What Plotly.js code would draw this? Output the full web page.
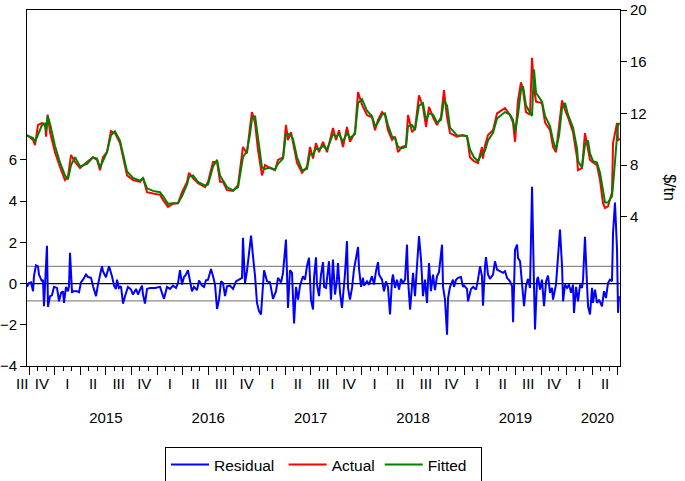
<!DOCTYPE html>
<html>
<head>
<meta charset="utf-8">
<script src="https://cdn.plot.ly/plotly-3.0.1.min.js"></script>
<style>html,body{margin:0;padding:0;background:#fff;}#chart{width:685px;height:481px;}</style>
</head>
<body>
<div id="chart"></div>
<script>
// Dates in decimal years (weekly data, Sep 2014 - Jul 2020)
const actDates = [2014.730,2014.789,2014.808,2014.837,2014.876,2014.906,2014.916,2014.932,2014.955,2015.003,
2015.052,2015.101,2015.130,2015.160,2015.199,2015.248,2015.316,2015.375,2015.414,2015.443,
2015.472,2015.511,2015.550,2015.589,2015.638,2015.707,2015.766,2015.834,2015.863,2015.902,
2015.961,2016.029,2016.058,2016.107,2016.156,2016.205,2016.244,2016.293,2016.312,2016.351,
2016.400,2016.469,2016.498,2016.547,2016.586,2016.615,2016.644,2016.683,2016.742,2016.791,
2016.839,2016.878,2016.908,2016.927,2016.957,2016.986,2017.025,2017.054,2017.103,2017.152,
2017.181,2017.230,2017.259,2017.279,2017.308,2017.328,2017.367,2017.416,2017.464,2017.494,
2017.523,2017.552,2017.582,2017.621,2017.660,2017.718,2017.748,2017.777,2017.816,2017.855,
2017.884,2017.933,2017.963,2018.002,2018.050,2018.099,2018.129,2018.158,2018.197,2018.226,
2018.255,2018.295,2018.324,2018.353,2018.392,2018.431,2018.451,2018.490,2018.519,2018.558,
2018.597,2018.627,2018.656,2018.695,2018.734,2018.773,2018.802,2018.832,2018.861,2018.929,
2018.988,2019.027,2019.056,2019.095,2019.134,2019.173,2019.183,2019.202,2019.232,2019.281,
2019.320,2019.398,2019.447,2019.476,2019.496,2019.525,2019.554,2019.574,2019.603,2019.642,
2019.662,2019.681,2019.701,2019.759,2019.789,2019.838,2019.867,2019.896,2019.926,2019.955,
2019.984,2020.013,2020.062,2020.101,2020.111,2020.150,2020.179,2020.208,2020.228,2020.257,
2020.296,2020.326,2020.355,2020.375,2020.404,2020.443,2020.453,2020.492,2020.502,2020.521];

const actual = [10.33,9.94,9.55,11.1,11.25,11.2,10.2,11.9,10.55,9.0,
7.85,6.84,7.1,8.78,8.24,7.77,8.24,8.6,8.4,7.6,
8.6,9.0,10.63,10.47,9.7,7.2,6.84,6.7,7.0,5.9,
5.8,5.7,5.3,4.76,5.0,5.05,5.9,6.7,7.4,7.0,
6.6,6.3,6.7,8.24,8.24,6.7,6.7,6.07,6.0,6.45,
9.4,8.9,10.95,12.1,11.25,9.16,7.2,8.0,7.77,7.6,
8.4,8.6,11.1,9.94,10.55,9.7,8.16,7.4,7.85,9.4,
8.5,9.7,9.0,9.8,9.0,10.87,9.94,10.7,9.4,10.95,
9.8,10.55,13.65,12.65,11.87,11.7,10.7,11.5,12.1,11.87,
10.7,9.94,10.2,9.0,9.4,9.5,11.87,10.55,10.8,13.4,
12.5,10.95,12.5,11.7,11.1,11.7,13.8,11.7,10.47,10.2,
10.33,10.2,8.6,8.3,8.16,9.4,8.5,9.5,10.33,10.7,
12.0,12.4,11.87,11.3,9.8,13.0,14.4,13.8,12.1,11.9,
16.3,14.0,12.9,12.8,11.3,10.7,9.4,9.0,11.1,13.0,
12.26,11.7,10.55,8.6,7.6,7.77,10.47,9.4,8.4,8.2,
8.0,6.84,5.05,4.67,4.8,5.9,9.7,11.25,9.94,10.0];

const fitted = [10.3,10.1,9.8,10.4,11.1,11.2,10.6,11.8,11.2,9.5,
8.2,7.2,6.9,8.0,8.6,7.9,8.1,8.6,8.5,7.8,
8.3,9.0,10.3,10.6,9.9,7.5,7.0,6.8,7.0,6.2,
6.0,5.9,5.6,5.0,5.05,5.05,5.6,6.5,7.1,7.2,
6.7,6.4,6.5,7.9,8.4,7.2,6.8,6.3,6.05,6.3,
8.6,9.1,10.4,11.6,11.8,10.0,7.8,7.7,7.8,7.65,
8.1,8.5,10.4,10.4,10.3,10.0,8.6,7.6,7.7,8.9,
8.8,9.3,9.2,9.5,9.2,10.4,10.2,10.4,9.8,10.5,
10.1,10.4,12.8,13.1,12.2,11.8,11.0,11.3,11.9,12.0,
11.1,10.2,10.1,9.4,9.3,9.4,11.0,11.1,10.7,12.6,
12.8,11.5,12.0,11.9,11.3,11.5,13.0,12.6,10.9,10.3,
10.3,10.25,9.2,8.6,8.3,8.9,8.9,9.1,9.9,10.5,
11.6,12.1,11.9,11.5,10.6,11.9,13.8,14.1,12.6,12.0,
11.8,15.4,13.6,12.9,11.8,11.0,9.9,9.2,10.3,12.4,
12.8,11.9,10.9,9.3,8.3,7.8,9.6,9.9,8.9,8.3,
8.2,7.4,5.8,5.1,5.1,5.6,6.4,10.5,11.2,11.2];

const resDates = [2014.730,2014.750,2014.769,2014.789,2014.798,2014.818,2014.837,2014.847,2014.876,2014.886,
2014.896,2014.906,2014.925,2014.935,2014.955,2014.974,2014.994,2015.023,2015.043,2015.062,
2015.082,2015.091,2015.111,2015.130,2015.140,2015.150,2015.170,2015.179,2015.218,2015.238,
2015.257,2015.277,2015.306,2015.326,2015.355,2015.375,2015.404,2015.423,2015.443,2015.462,
2015.472,2015.501,2015.531,2015.560,2015.580,2015.599,2015.609,2015.628,2015.648,2015.668,
2015.687,2015.716,2015.746,2015.765,2015.795,2015.814,2015.834,2015.853,2015.863,2015.882,
2015.902,2015.931,2015.980,2016.029,2016.068,2016.097,2016.127,2016.156,2016.185,2016.205,
2016.224,2016.244,2016.263,2016.283,2016.302,2016.322,2016.341,2016.361,2016.390,2016.410,
2016.439,2016.459,2016.478,2016.498,2016.527,2016.547,2016.566,2016.586,2016.605,2016.625,
2016.644,2016.664,2016.683,2016.712,2016.742,2016.771,2016.800,2016.830,2016.839,2016.859,
2016.878,2016.898,2016.918,2016.937,2016.957,2016.976,2016.996,2017.015,2017.035,2017.045,
2017.074,2017.103,2017.132,2017.162,2017.181,2017.211,2017.230,2017.259,2017.279,2017.298,
2017.318,2017.338,2017.357,2017.377,2017.396,2017.425,2017.445,2017.464,2017.484,2017.503,
2017.523,2017.533,2017.552,2017.562,2017.582,2017.601,2017.621,2017.631,2017.650,2017.670,
2017.679,2017.699,2017.718,2017.738,2017.757,2017.767,2017.787,2017.806,2017.816,2017.835,
2017.855,2017.865,2017.884,2017.904,2017.923,2017.943,2017.963,2017.972,2017.992,2018.011,
2018.021,2018.050,2018.070,2018.099,2018.119,2018.138,2018.158,2018.168,2018.197,2018.216,
2018.236,2018.255,2018.275,2018.295,2018.304,2018.324,2018.343,2018.363,2018.382,2018.402,
2018.422,2018.441,2018.451,2018.471,2018.490,2018.500,2018.519,2018.539,2018.558,2018.578,
2018.597,2018.617,2018.636,2018.656,2018.675,2018.695,2018.714,2018.734,2018.753,2018.783,
2018.793,2018.812,2018.832,2018.842,2018.861,2018.890,2018.900,2018.920,2018.939,2018.968,
2018.988,2018.998,2019.027,2019.037,2019.066,2019.086,2019.115,2019.134,2019.154,2019.173,
2019.183,2019.203,2019.212,2019.232,2019.251,2019.281,2019.300,2019.320,2019.349,2019.379,
2019.398,2019.418,2019.447,2019.467,2019.477,2019.496,2019.516,2019.525,2019.545,2019.564,
2019.584,2019.603,2019.623,2019.642,2019.662,2019.681,2019.691,2019.711,2019.720,2019.740,
2019.759,2019.779,2019.799,2019.818,2019.838,2019.857,2019.867,2019.896,2019.916,2019.935,
2019.955,2019.965,2019.984,2020.004,2020.023,2020.043,2020.062,2020.072,2020.092,2020.111,
2020.131,2020.150,2020.160,2020.179,2020.199,2020.209,2020.228,2020.248,2020.257,2020.277,
2020.296,2020.316,2020.345,2020.365,2020.384,2020.404,2020.423,2020.443,2020.453,2020.472,
2020.492,2020.502,2020.511];

const residual = [-0.16,0.03,0.06,-0.37,0.36,0.89,0.84,0.44,0.11,0.19,
-1.1,-0.29,1.84,-1.13,-0.61,-0.57,-0.16,-0.21,-0.86,-0.45,
-0.37,-0.94,-0.16,-0.37,-0.13,1.49,-0.45,-0.37,-0.37,-0.42,
0.06,0.19,0.44,0.32,0.28,-0.13,-0.61,-0.05,0.39,0.84,
0.6,0.31,0.84,0.36,-0.1,-0.26,0.19,-0.21,-0.13,-0.97,
-0.61,-0.16,-0.29,-0.53,-0.26,-0.53,-0.29,-0.1,-0.53,-0.97,
-0.26,-0.21,-0.21,-0.16,-0.74,-0.16,-0.26,-0.1,-0.21,0.03,
0.65,-0.05,0.32,0.44,0.65,0.03,-0.37,-0.16,-0.32,0.15,
-0.1,-0.16,0.16,0.19,0.71,0.36,-0.05,-1.23,-0.78,0.11,
0.03,-0.61,-0.13,-0.1,-0.26,0.11,0.19,0.28,2.22,0.03,
0.6,1.49,2.33,1.33,0.36,-0.94,-1.34,-1.5,0.19,0.65,
0.11,0.06,-0.74,-0.37,0.28,0.06,0.52,2.14,-1.18,0.65,
0.52,-1.94,-0.16,-0.78,-0.1,0.36,0.19,0.84,1.25,-0.78,
-1.26,0.28,1.28,-0.05,-0.61,0.44,1.04,-0.16,-0.21,0.68,
1.08,-0.78,1.17,-0.53,0.19,1.0,-0.45,-1.18,-0.61,0.44,
2.06,-0.21,-0.78,-0.21,0.68,1.33,1.78,0.76,-0.16,0.28,
-0.1,0.11,-0.05,0.36,-0.05,0.6,1.04,0.44,0.19,-0.37,
0.11,-0.16,-1.5,0.19,0.44,-0.21,0.19,-0.29,0.23,0.03,
0.19,1.89,0.19,-1.26,0.03,0.52,-0.61,0.84,2.3,1.17,
-0.61,0.19,-0.94,1.0,-0.37,0.44,-0.32,0.36,0.55,1.89,
-0.16,-0.78,-2.48,-0.7,-0.16,0.19,-0.16,0.19,0.28,0.32,
-0.16,-0.1,-0.26,-0.86,-0.26,-0.16,-0.29,0.19,0.84,0.36,
-1.07,0.84,1.29,0.44,0.23,0.44,1.08,0.68,0.6,0.52,
0.6,0.28,0.11,-0.13,-1.88,1.65,1.89,1.25,1.08,-0.13,
-1.1,-0.1,0.23,-0.21,4.7,-0.05,-2.23,0.19,0.32,-0.29,
0.19,-1.1,0.11,0.39,-0.45,-0.21,-0.78,-0.05,1.25,2.62,
0.84,-0.86,-0.05,-0.21,-0.05,-0.45,-0.05,-1.42,-0.16,-0.86,
-0.05,-0.21,0.19,2.27,-0.05,-1.1,-1.5,-0.21,-0.94,-0.29,
-0.94,-0.78,-1.1,-0.37,-0.7,0.03,0.19,0.11,2.46,3.93,
1.65,-1.42,-0.61];

const residualSE = 0.835; // +/- one standard error band

// Axis tick values and labels
const quarterBounds = [2014.75,2015.0,2015.25,2015.5,2015.75,2016.0,2016.25,2016.5,2016.75,2017.0,2017.25,2017.5,2017.75,2018.0,2018.25,2018.5,2018.75,2019.0,2019.25,2019.5,2019.75,2020.0,2020.25,2020.5];
const firstQuarterLabel = 'III'; // partial 2014 Q3, drawn at the left edge
const quarterPos = [2014.875,2015.125,2015.375,2015.625,2015.875,2016.125,2016.375,2016.625,2016.875,2017.125,2017.375,2017.625,2017.875,2018.125,2018.375,2018.625,2018.875,2019.125,2019.375,2019.625,2019.875,2020.125,2020.375];
const quarterLabels = ['IV','I','II','III','IV','I','II','III','IV','I','II','III','IV','I','II','III','IV','I','II','III','IV','I','II'];
const yearPos = [2015.5,2016.5,2017.5,2018.5,2019.5,2020.3];
const yearLabels = ['2015','2016','2017','2018','2019','2020'];
const leftTicks = [-4,-2,0,2,4,6];
const rightTicks = [4,8,12,16,20];

const xRange = [2014.73, 2020.521];
const FONT = 'Liberation Sans, Arial, sans-serif';

const traces = [
  {x: resDates, y: residual, name: 'Residual\u00a0', type: 'scatter', mode: 'lines',
   line: {color: '#0000FF', width: 2}, xaxis: 'x', yaxis: 'y'},
  {x: actDates, y: actual, name: 'Actual', type: 'scatter', mode: 'lines',
   line: {color: '#FF0000', width: 2}, xaxis: 'x', yaxis: 'y2'},
  {x: actDates, y: fitted, name: 'Fitted\u00a0\u00a0', type: 'scatter', mode: 'lines',
   line: {color: '#008000', width: 2}, xaxis: 'x', yaxis: 'y2'},
  {x: [], y: [], xaxis: 'x2', yaxis: 'y', showlegend: false, hoverinfo: 'skip', type: 'scatter'},
  {x: [], y: [], xaxis: 'x3', yaxis: 'y', showlegend: false, hoverinfo: 'skip', type: 'scatter'}
];

const layout = {
  width: 685, height: 481,
  margin: {l: 27, r: 65, t: 10, b: 115, autoexpand: false},
  paper_bgcolor: '#fff', plot_bgcolor: '#fff',
  font: {family: FONT, size: 15, color: '#000'},
  showlegend: true,
  legend: {orientation: 'h', x: 0.5, xanchor: 'center', xref: 'paper',
    y: 1 - 447/481, yanchor: 'top', yref: 'container',
    itemwidth: 38,
    bordercolor: '#000', borderwidth: 1, bgcolor: '#fff', font: {size: 15.5}},
  xaxis: {range: xRange, showgrid: false, zeroline: false, showline: true, mirror: true,
    linecolor: '#000', linewidth: 1, automargin: false,
    tickmode: 'array', tickvals: quarterBounds, ticktext: quarterBounds.map(() => ''),
    ticks: 'outside', ticklen: 8, tickcolor: '#000', tickwidth: 1,
    minor: {tickmode: 'linear', tick0: 2014.75, dtick: 1/12, ticks: 'outside', ticklen: 4, tickcolor: '#000', tickwidth: 1, showgrid: false}},
  xaxis2: {range: xRange, overlaying: 'x', anchor: 'y', side: 'bottom', showgrid: false, zeroline: false,
    showline: false, tickmode: 'array', tickvals: quarterPos, ticktext: quarterLabels, automargin: false,
    ticks: '', tickangle: 0, ticklabelstandoff: 7},
  xaxis3: {range: xRange, overlaying: 'x', anchor: 'y', side: 'bottom', showgrid: false, zeroline: false,
    showline: false, tickmode: 'array', tickvals: yearPos, ticktext: yearLabels, automargin: false,
    ticks: '', tickangle: 0, ticklabelstandoff: 41},
  yaxis: {range: [-4, 13.28], showgrid: false, zeroline: false, showline: true, mirror: false,
    linecolor: '#000', linewidth: 1, tickmode: 'array', tickvals: leftTicks, automargin: false,
    ticks: 'outside', ticklen: 6, tickcolor: '#000'},
  yaxis2: {range: [-7.55, 20], overlaying: 'y', side: 'right', anchor: 'x', showgrid: false, zeroline: false,
    showline: true, linecolor: '#000', linewidth: 1, tickmode: 'array', tickvals: rightTicks, automargin: false,
    ticks: 'outside', ticklen: 6, tickcolor: '#000'},
  shapes: [
    {type: 'line', xref: 'paper', x0: 0, x1: 1, yref: 'y', y0: 0, y1: 0, line: {color: '#000', width: 1.3}, layer: 'below'},
    {type: 'line', xref: 'paper', x0: 0, x1: 1, yref: 'y', y0: residualSE, y1: residualSE, line: {color: '#8c8c8c', width: 1.3}, layer: 'below'},
    {type: 'line', xref: 'paper', x0: 0, x1: 1, yref: 'y', y0: -residualSE, y1: -residualSE, line: {color: '#8c8c8c', width: 1.3}, layer: 'below'}
  ],
  annotations: [
    {text: '$/tn', xref: 'paper', yref: 'paper', x: 1.084, y: 0.5, showarrow: false,
     textangle: 90, font: {size: 16}, xanchor: 'center', yanchor: 'middle'},
    {text: firstQuarterLabel, xref: 'paper', yref: 'paper', x: -0.0073, y: -0.048, showarrow: false,
     font: {size: 15}, xanchor: 'center', yanchor: 'middle'}
  ]
};

Plotly.newPlot('chart', traces, layout, {staticPlot: true, displayModeBar: false});
</script>
</body>
</html>
